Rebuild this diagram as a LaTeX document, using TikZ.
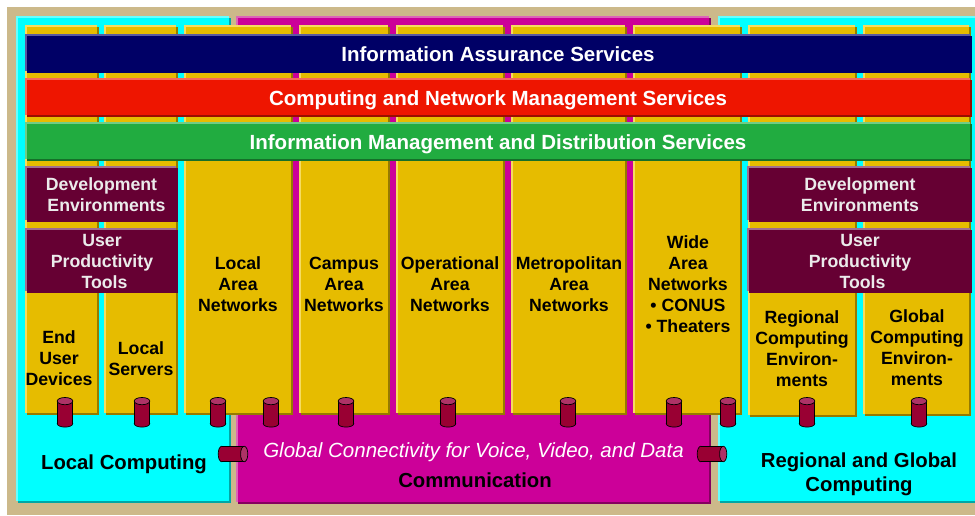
\documentclass[tikz,border=0pt]{standalone}
\usepackage{fontspec}
\setmainfont{Liberation Sans}
\definecolor{tanbg}{HTML}{CCB98A}
\definecolor{cyanmain}{HTML}{00FFFF}
\definecolor{cyanlight}{HTML}{66FFFF}
\definecolor{cyandark}{HTML}{00A6A6}
\definecolor{magmain}{HTML}{CC0099}
\definecolor{maglight}{HTML}{DB66B8}
\definecolor{magdark}{HTML}{85005F}
\definecolor{yelmain}{HTML}{E6BC00}
\definecolor{yellight}{HTML}{F5DC60}
\definecolor{yeldark}{HTML}{957A00}
\definecolor{navymain}{HTML}{000066}
\definecolor{navylight}{HTML}{5A5AA0}
\definecolor{redmain}{HTML}{EE1500}
\definecolor{redlight}{HTML}{F56A5A}
\definecolor{reddark}{HTML}{9A0E00}
\definecolor{greenmain}{HTML}{21AC40}
\definecolor{greenlight}{HTML}{70CC85}
\definecolor{greendark}{HTML}{157029}
\definecolor{marmain}{HTML}{660033}
\definecolor{marlight}{HTML}{A07090}
\definecolor{cylbody}{HTML}{990033}
\definecolor{cyltop}{HTML}{AD3366}
% panel: x1, y1, x2, y2, main, light, dark
\newcommand{\panel}[7]{%
  \fill[#7] (#1+2,#2+2) rectangle (#3,#4);
  \fill[#6] (#1,#2) rectangle (#3-2,#4-2);
  \fill[#5] (#1+1.5,#2+1.5) rectangle (#3-2,#4-2);
}
% upright drum: centre x, centre y
\newcommand{\vdrum}[2]{%
  \filldraw[drumline,fill=cylbody] (#1,#2+11.2) ellipse [x radius=7.8pt,y radius=3.6pt];
  \fill[cylbody] (#1-7.8,#2-11.2) rectangle (#1+7.8,#2+11.2);
  \draw[drumline] (#1-7.8,#2-11.2) -- (#1-7.8,#2+11.2) (#1+7.8,#2-11.2) -- (#1+7.8,#2+11.2);
  \filldraw[drumline,fill=cyltop] (#1,#2-11.2) ellipse [x radius=7.8pt,y radius=3.6pt];
}
% lying drum: centre x, centre y
\newcommand{\hdrum}[2]{%
  \filldraw[drumline,fill=cylbody] (#1-11.2,#2) ellipse [x radius=3.6pt,y radius=7.8pt];
  \fill[cylbody] (#1-11.2,#2-7.8) rectangle (#1+11.2,#2+7.8);
  \draw[drumline] (#1-11.2,#2-7.8) -- (#1+11.2,#2-7.8) (#1-11.2,#2+7.8) -- (#1+11.2,#2+7.8);
  \filldraw[drumline,fill=cyltop] (#1+11.2,#2) ellipse [x radius=3.6pt,y radius=7.8pt];
}
\tikzset{
  drumline/.style={draw=black,line width=0.7pt},
  bartext/.style={text=white,inner sep=0pt,text height=14.5pt,text depth=0pt,font=\fontsize{20.5}{23}\selectfont\bfseries},
  coltext/.style={align=center,inner sep=0pt,font=\fontsize{17.7}{21}\selectfont\bfseries},
  toolstext/.style={coltext,text=white!92!black},
  basetext/.style={align=center,inner sep=0pt,font=\fontsize{20.3}{24}\selectfont\bfseries},
}
\begin{document}
\begin{tikzpicture}[x=1pt,y=-1pt]
  \useasboundingbox (0,0) rectangle (975,515);
  % backdrop
  \fill[white] (0,0) rectangle (975,515);
  \fill[tanbg] (7,7) rectangle (975,515);
  % three base areas
  \panel{16}{16}{231}{503}{cyanmain}{cyanlight}{cyandark}
  \panel{236}{16}{711}{504}{magmain}{maglight}{magdark}
  \panel{718}{16}{977}{503}{cyanmain}{cyanlight}{cyandark}
  % columns
  \foreach \xa/\xb/\yb in {25/99/415,104/178/415,184/293/415,299/390/415,396/505/415,511/627/415,633/742/415,748/857/417,863/971/416} {
    \panel{\xa}{25}{\xb}{\yb}{yelmain}{yellight}{yeldark}
  }
  % bars across the top
  \panel{25}{34}{972}{73}{navymain}{navylight}{navymain}
  \panel{25}{78}{972}{117}{redmain}{redlight}{reddark}
  \panel{25}{122}{972}{161}{greenmain}{greenlight}{greendark}
  % dark boxes, left and right
  \foreach \xa/\xb in {25/178,747/972} {
    \panel{\xa}{166}{\xb}{222}{marmain}{marlight}{marmain}
    \panel{\xa}{228}{\xb}{293}{marmain}{marlight}{marmain}
  }
  \node[bartext] (assurance) at (498,54) {Information Assurance Services};
  \node[bartext] (management) at (498,98) {Computing and Network Management Services};
  \node[bartext] (distribution) at (498,142) {Information Management and Distribution Services};
  \node[toolstext] (devleft) at (104,194.5) {Development\ \ \\\ Environments};
  \node[toolstext] (toolsleft) at (102,261) {User\\Productivity\\\ Tools};
  \node[toolstext] (devright) at (860,194.5) {Development\\Environments};
  \node[toolstext] (toolsright) at (860,261) {User\\Productivity\\\ Tools};
  \node[coltext] (enduser) at (59,358) {End\\User\\Devices};
  \node[coltext] (servers) at (141,358.5) {Local\\Servers};
  \node[coltext] (lan) at (238,284) {Local\\Area\\Networks};
  \node[coltext] (can) at (344,284) {Campus\\Area\\Networks};
  \node[coltext] (oan) at (450,284) {Operational\\Area\\Networks};
  \node[coltext] (man) at (569,284) {Metropolitan\\Area\\Networks};
  \node[coltext] (wan) at (688,284) {Wide\\Area\\Networks\\• CONUS\\• Theaters};
  \node[coltext] (regional) at (802,348.5) {Regional\\Computing\\Environ-\\ments};
  \node[coltext] (global) at (917,347.5) {Global\\Computing\\Environ-\\ments};
  \node[basetext,text height=14.5pt,text depth=0pt] (localbase) at (124,462) {Local Computing};
  \node[basetext] (regionbase) at (859,474) {Regional and Global\\Computing};
  \node[basetext,font=\fontsize{20.5}{24}\selectfont\itshape,text=white] (voice) at (473.5,452) {Global Connectivity for Voice, Video, and Data};
  \node[basetext] (commbase) at (475,480) {Communication};
  % drums
  \foreach \x in {65,142,218,271,346,448,568,674,728,807,919} {
    \vdrum{\x}{412.3}
  }
  \hdrum{233}{454}
  \hdrum{712}{454}
\end{tikzpicture}
\end{document}
